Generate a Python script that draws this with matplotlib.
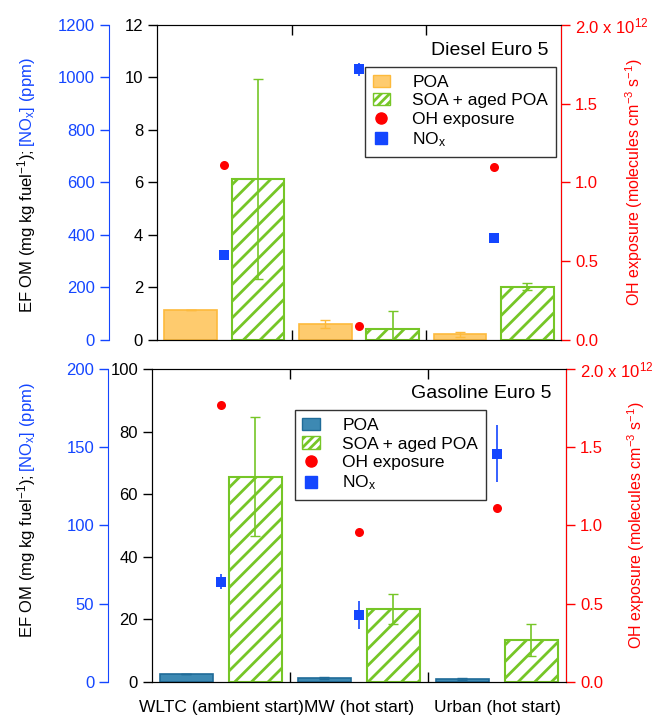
import matplotlib
matplotlib.use("Agg")
import matplotlib.pyplot as plt
from matplotlib.patches import Patch
from matplotlib.lines import Line2D

plt.rcParams['font.family'] = ['Liberation Sans', 'DejaVu Sans']
plt.rcParams['mathtext.fontset'] = 'custom'
plt.rcParams['mathtext.rm'] = 'Liberation Sans'
plt.rcParams['mathtext.it'] = 'Liberation Sans:italic'
plt.rcParams['hatch.linewidth'] = 2.0
plt.rcParams['font.size'] = 12

# ---- data ----
cycles = ['WLTC (ambient start)', 'MW (hot start)', 'Urban (hot start)']

diesel_poa = [1.15, 0.60, 0.22]
diesel_poa_err = [0.0, 0.16, 0.09]
diesel_soa = [6.14, 0.42, 2.03]
diesel_soa_err = [3.8, 0.67, 0.13]
diesel_oh = [1.11, 0.09, 1.10]          # x 1e12 molecules cm-3 s-1
diesel_nox = [323, 1031, 390]           # ppm
diesel_nox_err = [0, 25, 0]

gas_poa = [2.6, 1.2, 0.9]
gas_poa_err = [0.0, 0.3, 0.3]
gas_soa = [65.6, 23.3, 13.4]
gas_soa_err = [19.0, 4.8, 5.2]
gas_oh = [1.77, 0.96, 1.11]
gas_nox = [64, 43, 146]
gas_nox_err = [4.7, 9.0, 18.0]

RED = '#FF0000'
BLUE = '#1446FF'
GREEN = '#76C627'
ORANGE_FILL = '#FECB6E'
ORANGE_EDGE = '#FDBA3C'
STEEL_FILL = '#3D89B3'
STEEL_EDGE = '#1F6B98'

fig = plt.figure(figsize=(6.56, 7.2), dpi=100)


def draw_panel(rect, poa, poa_err, soa, soa_err, oh, nox, nox_err,
               ymax, yticks, noxmax, noxticks, poa_fill, poa_edge,
               title, title_xy, leg_xy, blue_off, oh_label_x):
    ax = fig.add_axes(rect)
    pos = [0, 1, 2]
    ax.bar([p + 0.25 for p in pos], poa, width=0.39, color=poa_fill,
           edgecolor=poa_edge, linewidth=1.2, zorder=2)
    ax.errorbar([p + 0.25 for p in pos], poa, yerr=poa_err, fmt='none',
                ecolor=poa_edge, elinewidth=1, capsize=3.5, zorder=3)
    ax.bar([p + 0.75 for p in pos], soa, width=0.39, color='white',
           edgecolor=GREEN, hatch='//', linewidth=1.5, zorder=2)
    ax.errorbar([p + 0.75 for p in pos], soa, yerr=soa_err, fmt='none',
                ecolor=GREEN, elinewidth=1.2, capsize=3.5, zorder=3)
    ax.set_xlim(0, 3)
    ax.set_ylim(0, ymax)
    ax.set_yticks(yticks)
    ax.set_xticks([1, 2])
    ax.set_xticklabels([])
    ax.tick_params(axis='x', direction='in', length=7, top=True, width=1)
    ax.tick_params(axis='y', direction='out', length=6.5, width=1)
    ax.spines['top'].set_color('#444444')

    # OH exposure (right)
    ax_oh = ax.twinx()
    ax_oh.set_ylim(0, 2.0)
    ax_oh.set_yticks([0, 0.5, 1.0, 1.5, 2.0])
    ax_oh.set_yticklabels(['0.0', '0.5', '1.0', '1.5', '2.0 x 10$^{12}$'])
    ax_oh.plot([p + 0.5 for p in pos], oh, 'o', color=RED, ms=6.5,
               markeredgewidth=0)
    ax_oh.spines['right'].set_color(RED)
    ax_oh.tick_params(axis='y', colors=RED, direction='out', length=6.5, width=1)
    ax_oh.set_ylabel('OH exposure (molecules cm$^{-3}$ s$^{-1}$)', color=RED,
                     fontsize=11.5)
    ax_oh.yaxis.set_label_coords(oh_label_x, 0.5)

    # NOx (left, offset)
    ax_nox = ax.twinx()
    ax_nox.yaxis.tick_left()
    ax_nox.spines['left'].set_position(('axes', blue_off))
    ax_nox.spines['left'].set_visible(True)
    ax_nox.spines['left'].set_color(BLUE)
    for s in ['right', 'top', 'bottom']:
        ax_nox.spines[s].set_visible(False)
    ax_nox.set_ylim(0, noxmax)
    ax_nox.set_yticks(noxticks)
    ax_nox.tick_params(axis='y', colors=BLUE, direction='out', length=6.5, width=1)
    ax_nox.errorbar([p + 0.5 for p in pos], nox, yerr=nox_err, fmt='s',
                    color=BLUE, ms=6.5, markeredgewidth=0, ecolor=BLUE,
                    elinewidth=1.2, capsize=3.5)

    ax_nox.text(title_xy[0], title_xy[1], title, transform=ax.transAxes,
                ha='right', va='center', fontsize=14)
    handles = [
        Patch(facecolor=poa_fill, edgecolor=poa_edge, label='POA'),
        Patch(facecolor='white', edgecolor=GREEN, hatch='////', label='SOA + aged POA'),
        Line2D([], [], marker='o', color=RED, ls='none', ms=8, label='OH exposure'),
        Line2D([], [], marker='s', color=BLUE, ls='none', ms=8, label='NO$_\\mathrm{x}$'),
    ]
    leg = ax_nox.legend(handles=handles, loc='upper right', bbox_to_anchor=leg_xy,
                        bbox_transform=ax.transAxes, frameon=True, fancybox=False,
                        edgecolor='black', fontsize=12.5, borderpad=0.45,
                        labelspacing=0.2, handlelength=1.0, handletextpad=1.3,
                        borderaxespad=0)
    leg.get_frame().set_linewidth(1.0)
    return ax


ax_top = draw_panel([0.2393, 0.5278, 0.6159, 0.4375],
                    diesel_poa, diesel_poa_err, diesel_soa, diesel_soa_err,
                    diesel_oh, diesel_nox, diesel_nox_err,
                    12, [0, 2, 4, 6, 8, 10, 12], 1200, [0, 200, 400, 600, 800, 1000, 1200],
                    ORANGE_FILL, ORANGE_EDGE, 'Diesel Euro 5', (0.970, 0.92),
                    (0.988, 0.867), -0.119, 1.155)

ax_bot = draw_panel([0.2317, 0.0528, 0.6311, 0.4347],
                    gas_poa, gas_poa_err, gas_soa, gas_soa_err,
                    gas_oh, gas_nox, gas_nox_err,
                    100, [0, 20, 40, 60, 80, 100], 200, [0, 50, 100, 150, 200],
                    STEEL_FILL, STEEL_EDGE, 'Gasoline Euro 5', (0.966, 0.923),
                    (0.807, 0.869), -0.106, 1.143)

# category labels under bottom panel
for i, c in enumerate(cycles):
    ax_bot.text(i + 0.5, -0.08, c, transform=ax_bot.get_xaxis_transform(),
                ha='center', va='center', fontsize=12.5)

# two-colour left labels
fig.canvas.draw()
renderer = fig.canvas.get_renderer()
for y0 in [(720 - 313) / 720, (720 - 638) / 720]:
    t1 = fig.text(32 / 656, y0, 'EF OM (mg kg fuel$^{-1}$); ', rotation=90,
                  rotation_mode='anchor', ha='left', va='baseline', color='black')
    bb = t1.get_window_extent(renderer)
    bb = bb.transformed(fig.transFigure.inverted())
    fig.text(32 / 656, y0 + bb.height, '[NO$_\\mathrm{x}$] (ppm)', rotation=90,
             rotation_mode='anchor', ha='left', va='baseline', color=BLUE)

fig.savefig('out.png', dpi=100)
